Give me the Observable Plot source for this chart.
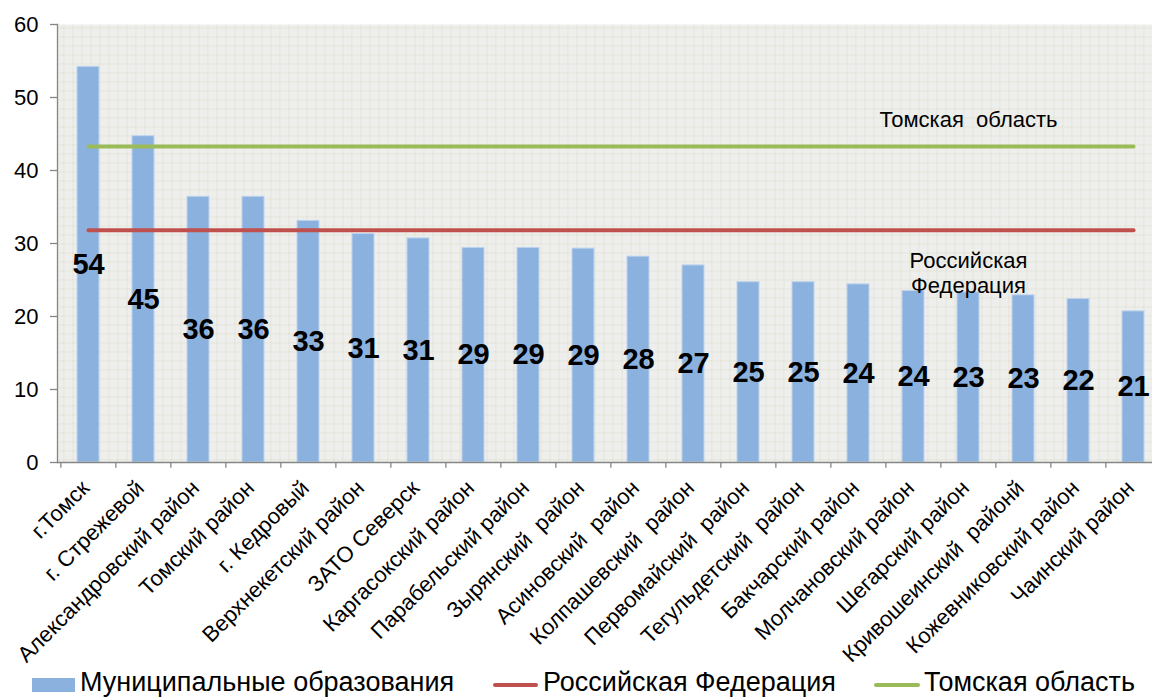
<!DOCTYPE html>
<html>
<head>
<meta charset="utf-8">
<script src="https://cdn.jsdelivr.net/npm/d3@7"></script>
<script src="https://cdn.jsdelivr.net/npm/@observablehq/plot@0.6"></script>
<style>
  html, body { margin: 0; padding: 0; background: #ffffff; }
  #wrap { position: relative; width: 1152px; height: 698px; overflow: hidden; font-family: "Liberation Sans", Arial, sans-serif; }
  #wrap svg { display: block; }
  .lg-text { position: absolute; font-size: 27px; line-height: 27px; color: #000; white-space: nowrap; }
  .lg-sw { position: absolute; }
</style>
</head>
<body>
<div id="wrap"></div>
<script>
// ---- data ----
const categories = [
  "г.Томск", "г. Стрежевой", "Александровский район", "Томский район", "г. Кедровый",
  "Верхнекетский район", "ЗАТО Северск", "Каргасокский район", "Парабельский район", "Зырянский  район",
  "Асиновский  район", "Колпашевский  район", "Первомайский  район", "Тегульдетский  район", "Бакчарский район",
  "Молчановский район", "Шегарский район", "Кривошеинский  районй", "Кожевниковский район", "Чаинский район"
];
const values = [54.2, 44.7, 36.4, 36.4, 33.1, 31.3, 30.7, 29.4, 29.4, 29.3, 28.2, 27.0, 24.7, 24.7, 24.4, 23.5, 23.3, 22.9, 22.4, 20.7];
const valueLabels = [54, 45, 36, 36, 33, 31, 31, 29, 29, 29, 28, 27, 25, 25, 24, 24, 23, 23, 22, 21];
const russiaValue = 31.8;
const tomskRegionValue = 43.3;
const yTicks = [0, 10, 20, 30, 40, 50, 60];
const seriesNames = ["Муниципальные образования", "Российская Федерация", "Томская область"];
const annotations = [
  { text: "Томская  область", at: "Шегарский район", y: 47.0 },
  { text: "Российская\nФедерация", at: "Шегарский район", y: 26.0 }
];

// ---- layout / style ----
const W = 1152, H = 676;
const mL = 57, mR = -11, mT = 24, mB = 214;
const step = (W - mR - mL) / categories.length;
const barColor = "#8BB1DE";
const rfColor = "#C0504D";
const toColor = "#9BBB59";
const axisColor = "#868686";

const rows = categories.map((c, i) => ({ name: c, value: values[i], label: valueLabels[i] }));

const chart = Plot.plot({
  width: W, height: H,
  marginLeft: mL, marginRight: mR, marginTop: mT, marginBottom: mB,
  style: { fontFamily: "'Liberation Sans', Arial, sans-serif", background: "#ffffff", color: "#000" },
  x: { domain: categories, paddingInner: 0.6, paddingOuter: 0.3, label: null },
  y: { domain: [0, 60], label: null },
  marks: [
    Plot.frame({ fill: "url(#bgGrid)", stroke: null }),
    Plot.barY(rows, { x: "name", y: "value", fill: barColor, stroke: "#BFD4EE", strokeWidth: 1 }),
    Plot.lineY(rows, { x: "name", y: () => russiaValue, stroke: rfColor, strokeWidth: 4, strokeLinecap: "round" }),
    Plot.lineY(rows, { x: "name", y: () => tomskRegionValue, stroke: toColor, strokeWidth: 4, strokeLinecap: "round" }),
    Plot.text(rows, { x: "name", y: d => d.value / 2, text: "label", fontSize: 29, fontWeight: "bold", fill: "#000" }),
    Plot.text(annotations, { x: "at", y: "y", text: "text", fontSize: 22, fill: "#000", lineHeight: 1.14 }),
    Plot.ruleY([0], { stroke: axisColor, strokeWidth: 1.3 }),
    Plot.frame({ anchor: "left", stroke: axisColor, strokeWidth: 1.3 }),
    Plot.ruleX(rows, { x: "name", y1: 0, y2: -0.8, dx: -step / 2, stroke: axisColor, strokeWidth: 1.3 }),
    Plot.axisY({ ticks: yTicks, tickSize: 7, tickPadding: 12, fontSize: 22, stroke: axisColor, strokeWidth: 1.3, fill: "#000", label: null }),
    Plot.axisX({ tickRotate: -45, tickSize: 0, tickPadding: 22, dx: -3, fontSize: 22, fill: "#000", label: null })
  ]
});

// background pattern for the plot area
const ns = "http://www.w3.org/2000/svg";
const defs = document.createElementNS(ns, "defs");
defs.innerHTML =
  '<pattern id="bgGrid" width="9" height="9" patternUnits="userSpaceOnUse">' +
  '<rect width="9" height="9" fill="#EEEFEC"/>' +
  '<path d="M0 0.5H9M0.5 0V9" stroke="#DEDBCB" stroke-width="1" stroke-dasharray="1 1" fill="none"/>' +
  '</pattern>';
chart.insertBefore(defs, chart.firstChild);

const wrap = document.getElementById("wrap");
wrap.appendChild(chart);

// legend (below the SVG)
const legendItems = [
  { name: seriesNames[0], kind: "rect", color: barColor, swLeft: 32, swW: 43, textLeft: 80 },
  { name: seriesNames[1], kind: "line", color: rfColor, swLeft: 493, swW: 45, textLeft: 543 },
  { name: seriesNames[2], kind: "line", color: toColor, swLeft: 874, swW: 46, textLeft: 924 }
];
for (const it of legendItems) {
  const sw = document.createElement("div");
  sw.className = "lg-sw";
  sw.style.left = it.swLeft + "px";
  sw.style.width = it.swW + "px";
  sw.style.background = it.color;
  if (it.kind === "rect") { sw.style.top = "678px"; sw.style.height = "14px"; }
  else { sw.style.top = "683px"; sw.style.height = "4px"; sw.style.borderRadius = "2px"; }
  wrap.appendChild(sw);
  const t = document.createElement("div");
  t.className = "lg-text";
  t.style.left = it.textLeft + "px";
  t.style.top = "669px";
  t.textContent = it.name;
  wrap.appendChild(t);
}
</script>
</body>
</html>
